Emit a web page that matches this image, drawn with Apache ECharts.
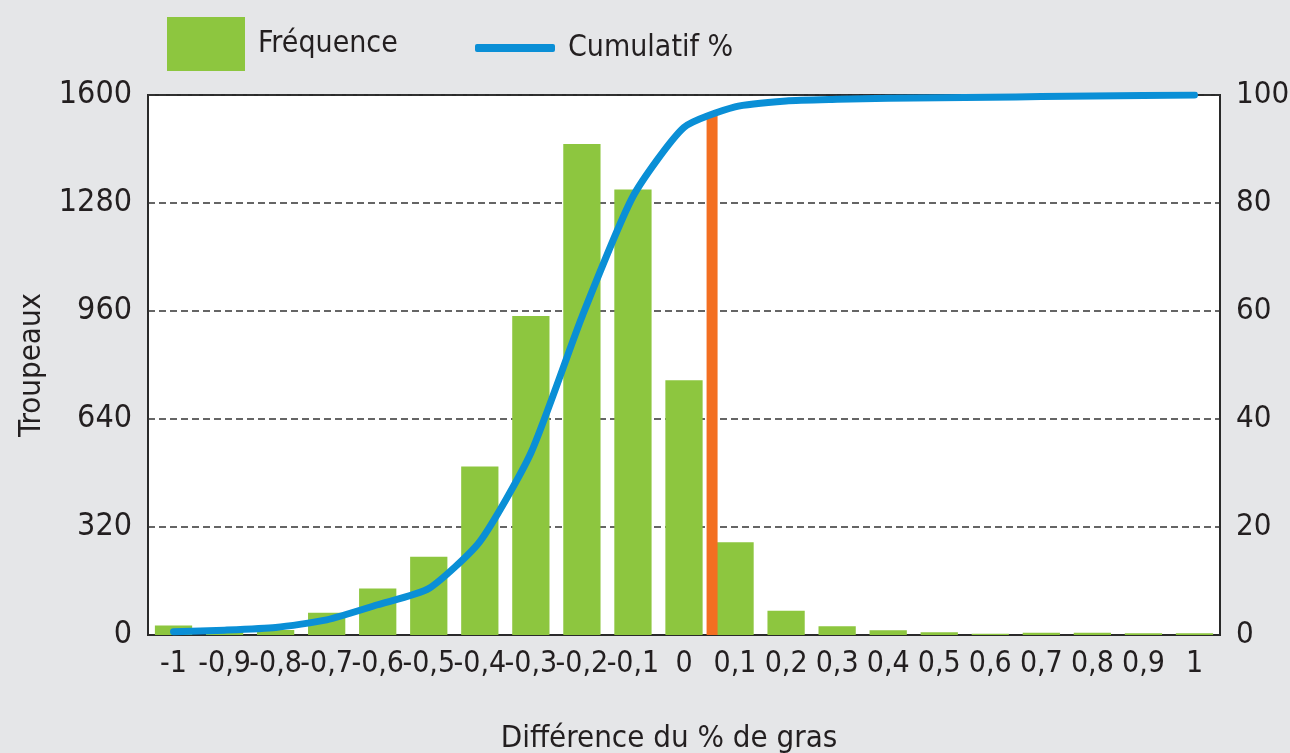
<!DOCTYPE html>
<html>
<head>
<meta charset="utf-8">
<script src="https://cdn.jsdelivr.net/npm/echarts@6/dist/echarts.min.js"></script>
<style>
html, body { margin: 0; padding: 0; background: #e5e6e8; }
#chart { width: 1290px; height: 753px; }
</style>
</head>
<body>
<div id="chart"></div>
<script>
const categories = ["-1", "-0,9", "-0,8", "-0,7", "-0,6", "-0,5", "-0,4", "-0,3", "-0,2", "-0,1",
  "0", "0,1", "0,2", "0,3", "0,4", "0,5", "0,6", "0,7", "0,8", "0,9", "1"];
const frequence = [28, 10, 15, 66, 138, 232, 499, 945, 1455, 1320,
  755, 275, 72, 26, 14, 8, 4, 7, 7, 5, 5];
const cumulatif = [0.6, 0.9, 1.4, 2.8, 5.6, 8.6, 17.3, 33.7, 58.9, 81.2,
  94.0, 97.8, 98.9, 99.2, 99.4, 99.5, 99.6, 99.7, 99.8, 99.9, 100];
// vertical marker between 0 and 0,1
const seuilX = 0.055;
const seuilHaut = 1540;
const leftTicks = [0, 320, 640, 960, 1280, 1600];
const rightTicks = [0, 20, 40, 60, 80, 100];

const font = '"Liberation Sans Narrow", "DejaVu Sans Condensed", "Liberation Sans", sans-serif';
const ink = "#231f20";

const chart = echarts.init(document.getElementById("chart"));
chart.setOption({
  backgroundColor: "#e5e6e8",
  animation: false,
  textStyle: { fontFamily: font, color: ink },
  legend: [
    {
      data: [{ name: "Fréquence", icon: "rect" }],
      left: 162,
      top: 12,
      itemWidth: 78,
      itemHeight: 54,
      textStyle: { fontFamily: font, fontSize: 30, color: ink, padding: [4, 0, 0, 8] }
    },
    {
      data: [{ name: "Cumulatif %", icon: "roundRect" }],
      left: 470,
      top: 28,
      itemWidth: 80,
      itemHeight: 8,
      textStyle: { fontFamily: font, fontSize: 30, color: ink, padding: [0, 0, 0, 8] }
    }
  ],
  grid: {
    left: 148,
    right: 70,
    top: 95,
    bottom: 118,
    outerBoundsMode: "none",
    show: true,
    backgroundColor: "#ffffff",
    borderColor: "#2a2a2a",
    borderWidth: 2
  },
  xAxis: [
    {
      type: "category",
      data: categories,
      name: "Différence du % de gras",
      nameLocation: "middle",
      nameGap: 88,
      nameTextStyle: { fontFamily: font, fontSize: 31, color: ink, padding: [0, 30, 0, 0] },
      axisLine: { lineStyle: { color: "#2a2a2a", width: 2 } },
      axisTick: { inside: true, length: 6, lineStyle: { color: "#222", width: 3 } },
      axisLabel: { interval: 0, fontSize: 30, color: ink, margin: 14 },
      splitLine: { show: false }
    },
    {
      type: "value",
      min: -1.05,
      max: 1.05,
      show: false
    }
  ],
  yAxis: [
    {
      type: "value",
      min: leftTicks[0],
      max: leftTicks[leftTicks.length - 1],
      interval: 320,
      name: "Troupeaux",
      nameLocation: "middle",
      nameGap: 96,
      nameTextStyle: { fontFamily: font, fontSize: 31, color: ink },
      axisLine: { show: false },
      axisTick: { show: false },
      axisLabel: { fontSize: 32, color: ink, margin: 16, formatter: v => String(v) },
      splitLine: { lineStyle: { color: "#333", width: 1.5, type: [7, 4] } }
    },
    {
      type: "value",
      min: rightTicks[0],
      max: rightTicks[rightTicks.length - 1],
      interval: 20,
      position: "right",
      axisLine: { show: false },
      axisTick: { show: false },
      axisLabel: { fontSize: 31, color: ink, margin: 16 },
      splitLine: { show: false }
    }
  ],
  series: [
    {
      name: "Fréquence",
      type: "bar",
      data: frequence,
      barWidth: "73%",
      itemStyle: { color: "#8dc63f" },
      z: 2
    },
    {
      name: "seuil",
      type: "line",
      xAxisIndex: 1,
      yAxisIndex: 0,
      data: [[seuilX, 0], [seuilX, seuilHaut]],
      symbol: "none",
      lineStyle: { color: "#f36f21", width: 11, cap: "butt" },
      z: 3
    },
    {
      name: "Cumulatif %",
      type: "line",
      yAxisIndex: 1,
      data: cumulatif,
      smooth: 0.2,
      symbol: "none",
      itemStyle: { color: "#0a8fd6" },
      lineStyle: { color: "#0a8fd6", width: 7, cap: "round", join: "round" },
      z: 4
    }
  ]
});
</script>
</body>
</html>
